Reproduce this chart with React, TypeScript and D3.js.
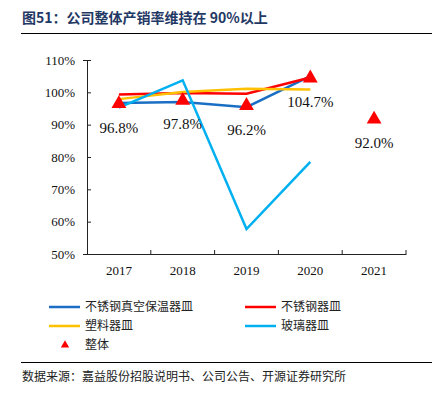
import React, { useRef, useEffect } from "react";
import * as d3 from "d3";

const years = ["2017", "2018", "2019", "2020", "2021"];
const vacuumSteel = [96.7, 97.0, 95.4, 105.0];
const steel = [99.3, 99.8, 99.6, 104.6];
const plastic = [97.9, 100.1, 101.1, 100.9];
const glass = [95.3, 103.7, 57.7, 78.5];
const overall = [96.8, 97.8, 96.2, 104.7, 92.0];
const yTicks = [50, 60, 70, 80, 90, 100, 110];

const series = [
  { name: "不锈钢真空保温器皿", values: vacuumSteel, color: "#1A6FC4" },
  { name: "不锈钢器皿", values: steel, color: "#FF0000" },
  { name: "塑料器皿", values: plastic, color: "#FFC000" },
  { name: "玻璃器皿", values: glass, color: "#00B0F0" },
];

const W = 437;
const H = 395;
const serif = "'Liberation Serif', 'Times New Roman', serif";
const cjk = "'Noto Sans CJK SC', sans-serif";

const App = () => {
  const svgRef = useRef<SVGSVGElement>(null);

  useEffect(() => {
    const svg = d3.select(svgRef.current);
    svg.selectAll("*").remove();

    const margin = { top: 60, right: 31, bottom: 141, left: 87 };

    const x = d3
      .scaleBand()
      .domain(years)
      .range([margin.left, W - margin.right]);

    const y = d3
      .scaleLinear()
      .domain([50, 110])
      .range([H - margin.bottom, margin.top]);

    // title
    svg
      .append("text")
      .attr("x", 22)
      .attr("y", 23)
      .attr("font-family", cjk)
      .attr("font-weight", "bold")
      .attr("font-size", 14)
      .attr("fill", "#1F3864")
      .text("图51：公司整体产销率维持在 90%以上");

    svg
      .append("line")
      .attr("x1", 21)
      .attr("x2", 432)
      .attr("y1", 33.5)
      .attr("y2", 33.5)
      .attr("stroke", "#000")
      .attr("stroke-width", 1);

    // axes
    const yAxis = svg
      .append("g")
      .attr("transform", `translate(${margin.left},0)`)
      .call(
        d3
          .axisLeft(y)
          .tickValues(yTicks)
          .tickSize(4)
          .tickPadding(8)
          .tickFormat((d) => `${d}%`)
      )
      .attr("font-family", serif)
      .attr("font-size", 13);
    yAxis.select(".domain").attr("stroke", "#222");
    yAxis.selectAll(".tick line").attr("stroke", "#222").attr("x2", 4);
    yAxis.selectAll("text").attr("fill", "#111");

    const xAxis = svg
      .append("g")
      .attr("transform", `translate(0,${H - margin.bottom})`)
      .call(d3.axisBottom(x).tickSize(0).tickPadding(12))
      .attr("font-family", serif)
      .attr("font-size", 13);
    xAxis.select(".domain").attr("stroke", "#222");
    xAxis.selectAll("text").attr("fill", "#111");

    // category boundary ticks
    svg
      .append("g")
      .selectAll("line")
      .data(years)
      .join("line")
      .attr("x1", (d) => (x(d) as number) + x.step())
      .attr("x2", (d) => (x(d) as number) + x.step())
      .attr("y1", H - margin.bottom)
      .attr("y2", H - margin.bottom - 4)
      .attr("stroke", "#222");

    const cx = (i: number) => (x(years[i]) as number) + x.bandwidth() / 2;

    const line = d3
      .line<number>()
      .x((d, i) => cx(i))
      .y((d) => y(d));

    svg
      .selectAll(".line")
      .data(series)
      .join("path")
      .attr("class", "line")
      .attr("d", (d) => line(d.values))
      .attr("fill", "none")
      .attr("stroke", (d) => d.color)
      .attr("stroke-width", 2.5);

    // overall markers
    const tri = d3.symbol().type(d3.symbolTriangle).size(95);
    svg
      .selectAll(".tri")
      .data(overall)
      .join("path")
      .attr("class", "tri")
      .attr("d", tri)
      .attr("transform", (d, i) => `translate(${cx(i)},${y(d) + 1})`)
      .attr("fill", "#FF0000");

    svg
      .selectAll(".lbl")
      .data(overall)
      .join("text")
      .attr("class", "lbl")
      .attr("x", (d, i) => cx(i))
      .attr("y", (d) => y(d) + 30)
      .attr("text-anchor", "middle")
      .attr("font-family", serif)
      .attr("font-size", 15)
      .attr("fill", "#111")
      .text((d) => `${d.toFixed(1)}%`);

    // legend
    const legendItems = [
      { ...series[0], lx: 49, ly: 307 },
      { ...series[1], lx: 245, ly: 307 },
      { ...series[2], lx: 49, ly: 326 },
      { ...series[3], lx: 245, ly: 326 },
    ];
    const legend = svg
      .selectAll(".legend")
      .data(legendItems)
      .join("g")
      .attr("class", "legend")
      .attr("transform", (d) => `translate(${d.lx},${d.ly})`);
    legend
      .append("line")
      .attr("x1", 0)
      .attr("x2", 31)
      .attr("stroke", (d) => d.color)
      .attr("stroke-width", 2.5);
    legend
      .append("text")
      .attr("x", 36)
      .attr("dy", "0.35em")
      .attr("font-family", cjk)
      .attr("font-size", 12)
      .attr("fill", "#222")
      .text((d) => d.name);

    const lt = svg.append("g").attr("transform", "translate(65,345)");
    lt.append("path")
      .attr("d", d3.symbol().type(d3.symbolTriangle).size(30)())
      .attr("fill", "#FF0000");
    lt.append("text")
      .attr("x", 20)
      .attr("dy", "0.35em")
      .attr("font-family", cjk)
      .attr("font-size", 12)
      .attr("fill", "#222")
      .text("整体");

    // source
    svg
      .append("line")
      .attr("x1", 21)
      .attr("x2", 432)
      .attr("y1", 362.5)
      .attr("y2", 362.5)
      .attr("stroke", "#000")
      .attr("stroke-width", 1);
    svg
      .append("text")
      .attr("x", 22)
      .attr("y", 381)
      .attr("font-family", cjk)
      .attr("font-size", 12)
      .attr("fill", "#222")
      .text("数据来源：嘉益股份招股说明书、公司公告、开源证券研究所");
  }, []);

  return (
    <svg
      ref={svgRef}
      width={W}
      height={H}
      style={{ position: "absolute", left: 0, top: 0, background: "#fff" }}
    ></svg>
  );
};

export default App;
